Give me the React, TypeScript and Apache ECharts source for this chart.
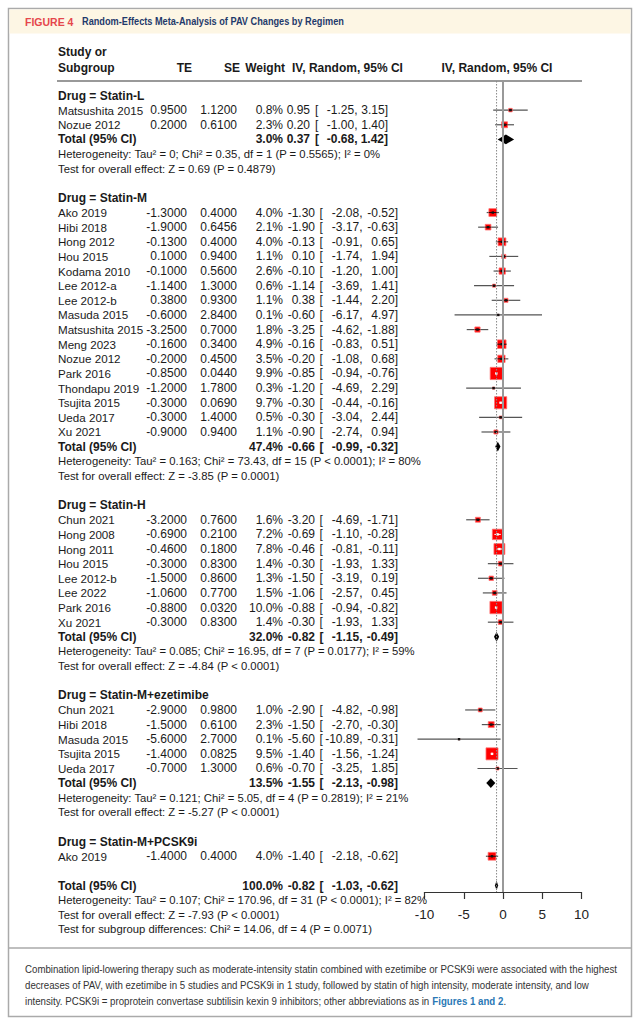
import React, { useEffect, useRef } from "react";
import * as echarts from "echarts";

// ---------- data ----------
const groupNames = ["Statin-L", "Statin-M", "Statin-H", "Statin-M+ezetimibe", "Statin-M+PCSK9i"];

// [study, TE, SE, weight %, lower 95% CI, upper 95% CI]
const statinL: [string, number, number, number, number, number][] = [
  ["Matsushita 2015", 0.95, 1.12, 0.8, -1.25, 3.15],
  ["Nozue 2012", 0.2, 0.61, 2.3, -1.0, 1.4],
];
const statinM: [string, number, number, number, number, number][] = [
  ["Ako 2019", -1.3, 0.4, 4.0, -2.08, -0.52],
  ["Hibi 2018", -1.9, 0.6456, 2.1, -3.17, -0.63],
  ["Hong 2012", -0.13, 0.4, 4.0, -0.91, 0.65],
  ["Hou 2015", 0.1, 0.94, 1.1, -1.74, 1.94],
  ["Kodama 2010", -0.1, 0.56, 2.6, -1.2, 1.0],
  ["Lee 2012-a", -1.14, 1.3, 0.6, -3.69, 1.41],
  ["Lee 2012-b", 0.38, 0.93, 1.1, -1.44, 2.2],
  ["Masuda 2015", -0.6, 2.84, 0.1, -6.17, 4.97],
  ["Matsushita 2015", -3.25, 0.7, 1.8, -4.62, -1.88],
  ["Meng 2023", -0.16, 0.34, 4.9, -0.83, 0.51],
  ["Nozue 2012", -0.2, 0.45, 3.5, -1.08, 0.68],
  ["Park 2016", -0.85, 0.044, 9.9, -0.94, -0.76],
  ["Thondapu 2019", -1.2, 1.78, 0.3, -4.69, 2.29],
  ["Tsujita 2015", -0.3, 0.069, 9.7, -0.44, -0.16],
  ["Ueda 2017", -0.3, 1.4, 0.5, -3.04, 2.44],
  ["Xu 2021", -0.9, 0.94, 1.1, -2.74, 0.94],
];
const statinH: [string, number, number, number, number, number][] = [
  ["Chun 2021", -3.2, 0.76, 1.6, -4.69, -1.71],
  ["Hong 2008", -0.69, 0.21, 7.2, -1.1, -0.28],
  ["Hong 2011", -0.46, 0.18, 7.8, -0.81, -0.11],
  ["Hou 2015", -0.3, 0.83, 1.4, -1.93, 1.33],
  ["Lee 2012-b", -1.5, 0.86, 1.3, -3.19, 0.19],
  ["Lee 2022", -1.06, 0.77, 1.5, -2.57, 0.45],
  ["Park 2016", -0.88, 0.032, 10.0, -0.94, -0.82],
  ["Xu 2021", -0.3, 0.83, 1.4, -1.93, 1.33],
];
const statinEze: [string, number, number, number, number, number][] = [
  ["Chun 2021", -2.9, 0.98, 1.0, -4.82, -0.98],
  ["Hibi 2018", -1.5, 0.61, 2.3, -2.7, -0.3],
  ["Masuda 2015", -5.6, 2.7, 0.1, -10.89, -0.31],
  ["Tsujita 2015", -1.4, 0.0825, 9.5, -1.56, -1.24],
  ["Ueda 2017", -0.7, 1.3, 0.6, -3.25, 1.85],
];
const statinPcsk9: [string, number, number, number, number, number][] = [
  ["Ako 2019", -1.4, 0.4, 4.0, -2.18, -0.62],
];

// [weight %, estimate, lower, upper]
const subgroupTotals: ([number, number, number, number] | null)[] = [
  [3.0, 0.37, -0.68, 1.42],
  [47.4, -0.66, -0.99, -0.32],
  [32.0, -0.82, -1.15, -0.49],
  [13.5, -1.55, -2.13, -0.98],
  null,
];
const heterogeneityTexts: (string | null)[] = [
  "Heterogeneity: Tau² = 0; Chi² = 0.35, df = 1 (P = 0.5565); I² = 0%",
  "Heterogeneity: Tau² = 0.163; Chi² = 73.43, df = 15 (P < 0.0001); I² = 80%",
  "Heterogeneity: Tau² = 0.085; Chi² = 16.95, df = 7 (P = 0.0177); I² = 59%",
  "Heterogeneity: Tau² = 0.121; Chi² = 5.05, df = 4 (P = 0.2819); I² = 21%",
  null,
];
const overallEffectTexts: (string | null)[] = [
  "Test for overall effect: Z = 0.69 (P = 0.4879)",
  "Test for overall effect: Z = -3.85 (P = 0.0001)",
  "Test for overall effect: Z = -4.84 (P < 0.0001)",
  "Test for overall effect: Z = -5.27 (P < 0.0001)",
  null,
];
const overallTotal: [number, number, number, number] = [100.0, -0.82, -1.03, -0.62];
const overallHeterogeneity = "Heterogeneity: Tau² = 0.107; Chi² = 170.96, df = 31 (P < 0.0001); I² = 82%";
const overallTest = "Test for overall effect: Z = -7.93 (P < 0.0001)";
const subgroupDifferenceTest = "Test for subgroup differences: Chi² = 14.06, df = 4 (P = 0.0071)";
const xTicks = [-10, -5, 0, 5, 10];

const figureLabel = "FIGURE 4";
const figureTitle = "Random-Effects Meta-Analysis of PAV Changes by Regimen";
const captionLines = [
  "Combination lipid-lowering therapy such as moderate-intensity statin combined with ezetimibe or PCSK9i were associated with the highest",
  "decreases of PAV, with ezetimibe in 5 studies and PCSK9i in 1 study, followed by statin of high intensity, moderate intensity, and low",
  "intensity. PCSK9i = proprotein convertase subtilisin kexin 9 inhibitors; other abbreviations as in ",
];
const captionLink = "Figures 1 and 2";

// ---------- layout ----------
const FONT = '"Liberation Sans", Arial, Helvetica, sans-serif';
const TXT = "#1a1a1a";
const ROW0_Y = 95.5;
const ROW_H = 14.63;
const PLOT_TOP = 81;
const PLOT_BOTTOM = 892;
const Y_MIN = (PLOT_TOP - ROW0_Y) / ROW_H;
const Y_MAX = (PLOT_BOTTOM - ROW0_Y) / ROW_H;
const NAME_X = 58;
const TE_R = 187;
const SE_R = 237;
const W_R = 283;
const EST_R = 315;
const BR_X = 319.5;
const LO_R = 362.5;
const UP_R = 398;
// per-group offsets of the CI text pieces (the Statin-L block is set tighter)
const EST_SHIFT = [-5, 0, 0, 0, 0, 0];
const BR_SHIFT = [-4.5, 0, 0, 0, 0, 0];
const LO_SHIFT = [-5, 0, 0, 0, 0, 0];
const UP_SHIFT = [-10, 0, 0, 0, 0, 0];
const NAME_SIZE = 11.6;
const NUM_SIZE = 12;
const NOTE_SIZE = 11.3;
const SQ_K = 3.9;

// ---------- rows ----------
type Row = { r: number; kind: string; g: number; text?: string; s?: any; tot?: number[] };
const groups = [statinL, statinM, statinH, statinEze, statinPcsk9];
const rows: Row[] = [];
let rr = 0;
groups.forEach((studies, gi) => {
  rows.push({ r: rr++, g: gi, kind: "heading", text: `Drug = ${groupNames[gi]}` });
  studies.forEach((s) => rows.push({ r: rr++, g: gi, kind: "study", s }));
  const tot = subgroupTotals[gi];
  if (tot) {
    rows.push({ r: rr++, g: gi, kind: "total", tot });
    rows.push({ r: rr++, g: gi, kind: "note", text: heterogeneityTexts[gi] as string });
    rows.push({ r: rr++, g: gi, kind: "note", text: overallEffectTexts[gi] as string });
  }
  rr++;
});
rows.push({ r: rr++, g: 5, kind: "total", tot: overallTotal });
rows.push({ r: rr++, g: 5, kind: "note", text: overallHeterogeneity });
rows.push({ r: rr++, g: 5, kind: "note", text: overallTest });
rows.push({ r: rr++, g: 5, kind: "note", text: subgroupDifferenceTest });

function renderRow(params: any, api: any) {
  const row = rows[params.dataIndex];
  const y = api.coord([0, row.r])[1];
  const px = (v: number) => api.coord([v, row.r])[0];
  const ch: any[] = [];
  const T = (x: number, text: string, align = "left", weight = "normal", size = NUM_SIZE) =>
    ch.push({
      type: "text",
      x,
      y,
      style: { text, fill: TXT, fontSize: size, fontFamily: FONT, fontWeight: weight, align, verticalAlign: "middle" },
    });
  const ciText = (est: number, lo: number, up: number, w: number, weight: string) => {
    const g = row.g;
    T(W_R, w.toFixed(1) + "%", "right", weight);
    T(EST_R + EST_SHIFT[g], est.toFixed(2), "right", weight);
    T(BR_X + BR_SHIFT[g], "[", "left", weight);
    T(LO_R + LO_SHIFT[g], lo.toFixed(2) + ",", "right", weight);
    T(UP_R + UP_SHIFT[g], up.toFixed(2) + "]", "right", weight);
  };
  if (row.kind === "heading") {
    T(NAME_X, row.text as string, "left", "bold");
  } else if (row.kind === "note") {
    T(NAME_X, row.text as string, "left", "normal", NOTE_SIZE);
  } else if (row.kind === "study") {
    const [name, te, se, w, lo, up] = row.s;
    T(NAME_X, name, "left", "normal", NAME_SIZE);
    T(TE_R, te.toFixed(4), "right");
    T(SE_R, se.toFixed(4), "right");
    ciText(te, lo, up, w, "normal");
    const xl = px(lo);
    const xu = px(up);
    const cx = px(te);
    const s = SQ_K * Math.sqrt(w);
    ch.push({ type: "line", shape: { x1: xl, y1: y, x2: xu, y2: y }, style: { stroke: "#555", lineWidth: 1.2 } });
    ch.push({
      type: "rect",
      shape: { x: cx - s / 2, y: y - s / 2, width: s, height: s },
      style: { fill: "#ff0000", stroke: "#ff7070", lineWidth: 0.8 },
    });
    const inside = xl >= cx - s / 2 && xu <= cx + s / 2;
    const c = inside ? "#ffffff" : "#111111";
    ch.push({
      type: "line",
      shape: { x1: Math.max(xl, cx - s / 2), y1: y, x2: Math.min(xu, cx + s / 2), y2: y },
      style: { stroke: c, lineWidth: 1 },
    });
    ch.push({ type: "rect", shape: { x: cx - 1.2, y: y - 1.2, width: 2.4, height: 2.4 }, style: { fill: c } });
  } else if (row.kind === "total") {
    const [w, est, lo, up] = row.tot as number[];
    T(NAME_X, "Total (95% CI)", "left", "bold");
    ciText(est, lo, up, w, "bold");
    const hh = ROW_H * 0.33;
    ch.push({
      type: "polygon",
      shape: {
        points: [
          [px(lo), y],
          [px(est), y - hh],
          [px(up), y],
          [px(est), y + hh],
        ],
      },
      style: { fill: "#000" },
    });
  }
  return { type: "group", children: ch };
}

export default function App() {
  const ref = useRef<HTMLDivElement>(null);
  useEffect(() => {
    const chart = echarts.init(ref.current as HTMLDivElement, null, { renderer: "svg" });
    const headerText = (x: number, y: number, text: string, align = "left") => ({
      type: "text",
      x,
      y,
      style: { text, fill: TXT, fontSize: 12, fontFamily: FONT, fontWeight: "bold", align, verticalAlign: "middle" },
    });
    const option: any = {
      animation: false,
      grid: { left: 424.5, width: 157, top: PLOT_TOP, height: PLOT_BOTTOM - PLOT_TOP },
      xAxis: {
        type: "value",
        min: -10,
        max: 10,
        interval: 5,
        position: "bottom",
        axisLine: { show: true, onZero: false, lineStyle: { color: "#333", width: 1.2 } },
        axisTick: { show: true, inside: false, length: 7, lineStyle: { color: "#333", width: 1.2 } },
        axisLabel: {
          fontSize: 13.5,
          color: "#222",
          fontFamily: FONT,
          margin: 15,
          formatter: (v: number) => (xTicks.includes(v) ? String(v) : ""),
        },
        splitLine: { show: false },
      },
      yAxis: { type: "value", inverse: true, min: Y_MIN, max: Y_MAX, show: false },
      series: [
        {
          type: "line",
          data: [
            [0, Y_MIN],
            [0, Y_MAX],
          ],
          symbol: "none",
          silent: true,
          lineStyle: { color: "#999", width: 2 },
        },
        {
          type: "line",
          data: [
            [overallTotal[1], Y_MIN],
            [overallTotal[1], Y_MAX],
          ],
          symbol: "none",
          silent: true,
          lineStyle: { color: "#888", width: 1, type: [1.5, 1.5] },
        },
        {
          type: "custom",
          renderItem: renderRow,
          data: rows.map((r) => [0, r.r]),
          encode: { x: 0, y: 1 },
          clip: false,
          silent: true,
        },
      ],
      graphic: [
        { type: "rect", shape: { x: 8.5, y: 8.5, width: 623, height: 1008 }, style: { fill: "#fff", stroke: "#aaa", lineWidth: 1.5 }, z: -10 },
        { type: "rect", shape: { x: 9.5, y: 9.5, width: 621, height: 24 }, style: { fill: "#fdf6e4" }, z: -9 },
        { type: "line", shape: { x1: 8.5, y1: 948, x2: 631.5, y2: 948 }, style: { stroke: "#aaa", lineWidth: 1.5 } },
        {
          type: "text",
          x: 25,
          y: 21.5,
          style: { text: figureLabel, fill: "#e5474c", fontSize: 10.5, fontWeight: "bold", fontFamily: FONT, verticalAlign: "middle" },
        },
        {
          type: "text",
          x: 82,
          y: 21.5,
          scaleX: 0.875,
          style: { text: figureTitle, fill: "#1f3a6b", fontSize: 10.5, fontWeight: "bold", fontFamily: FONT, verticalAlign: "middle" },
        },
        headerText(NAME_X, 52, "Study or"),
        headerText(NAME_X, 68, "Subgroup"),
        headerText(192, 68, "TE", "right"),
        headerText(240, 68, "SE", "right"),
        headerText(285, 68, "Weight", "right"),
        headerText(292, 68, "IV, Random, 95% CI", "left"),
        headerText(497, 68, "IV, Random, 95% CI", "center"),
        { type: "line", shape: { x1: 57, y1: PLOT_TOP, x2: 582, y2: PLOT_TOP }, style: { stroke: "#999", lineWidth: 2 } },
        ...captionLines.map((t, i) => ({
          type: "text",
          x: 25,
          y: 969 + i * 16,
          scaleX: 0.923,
          style: {
            text: i === 2 ? `${t}{link|${captionLink}}.` : t,
            fill: "#333",
            fontSize: 10.5,
            fontFamily: FONT,
            verticalAlign: "middle",
            rich: { link: { fill: "#2a78b5", fontWeight: "bold", fontSize: 10.5, fontFamily: FONT } },
          },
        })),
      ],
    };
    chart.setOption(option);
    return () => chart.dispose();
  }, []);
  return (
    <div
      ref={ref}
      style={{ position: "absolute", left: 0, top: 0, width: 640, height: 1024, background: "#fff" }}
    />
  );
}
